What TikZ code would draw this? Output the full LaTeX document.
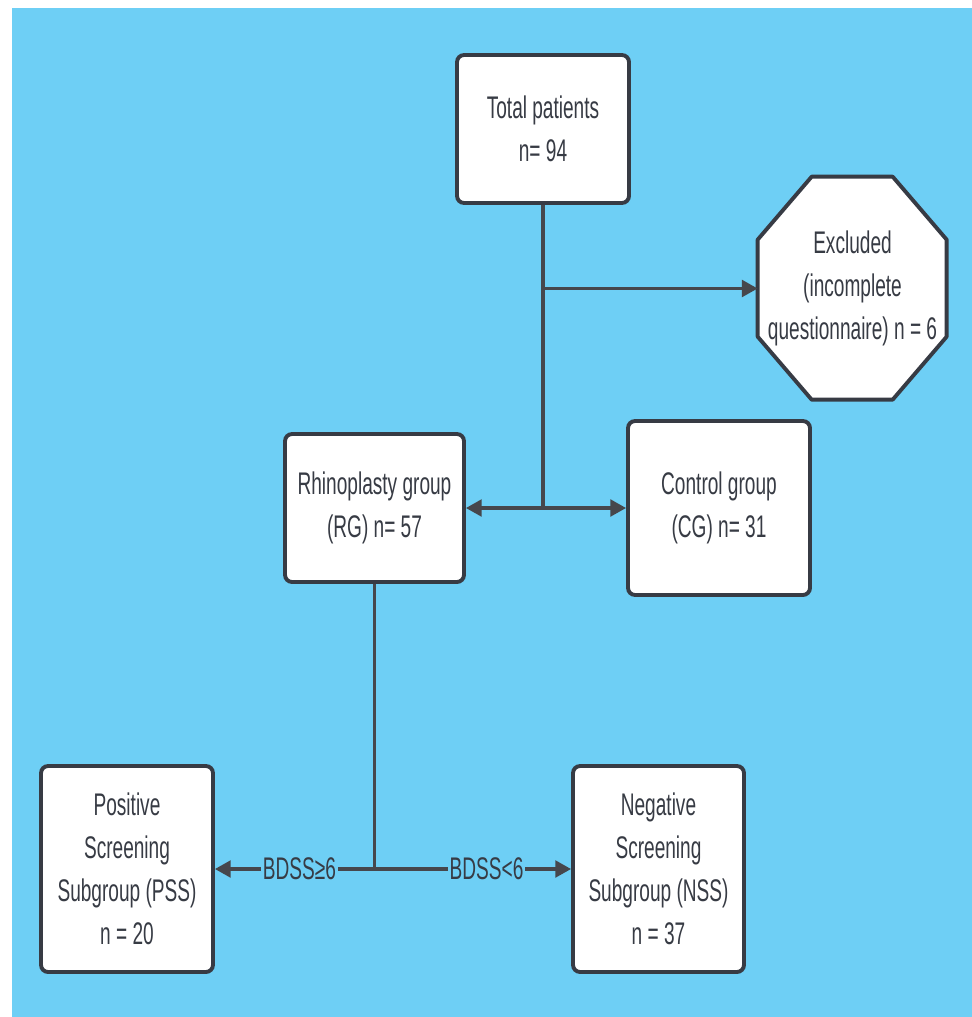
\documentclass[tikz,border=0pt]{standalone}
\usepackage{fontspec}
\setmainfont[FakeStretch=0.61]{Liberation Sans}
\usepackage{tikz}
\usetikzlibrary{positioning,backgrounds,arrows.meta}

\definecolor{bgblue}{RGB}{110,207,245}
\definecolor{inkgray}{RGB}{55,59,68}
\definecolor{linegray}{RGB}{70,71,76}

\begin{document}
\begin{tikzpicture}[x=0.02cm,y=-0.02cm,
    boxnode/.style={rectangle,rounded corners=4pt,draw=inkgray,line width=2.2pt,fill=white,
      text=inkgray,align=center,font=\fontsize{17.8}{24.5}\selectfont},
    octnode/.style={rectangle,text=inkgray,align=center,font=\fontsize{17.8}{24.5}\selectfont},
    link/.style={draw=linegray,line width=1.9pt},
    arrowlink/.style={link,-{Triangle[length=9pt,width=9.5pt]}},
    cutlabel/.style={fill=bgblue,text=inkgray,inner sep=1pt,font=\fontsize{17.8}{20}\selectfont}]
    \useasboundingbox (0,0) rectangle (972,1017);

    \node[boxnode,minimum width=3.44cm,minimum height=2.96cm] (total) at (543,129) {Total patients\\n= 94};
    \node[octnode,minimum width=3.78cm,minimum height=4.46cm] (excl) at (852.5,288.5)
      {Excluded\\(incomplete\\questionnaire) n = 6};
    \node[boxnode,minimum width=3.58cm,minimum height=2.96cm] (rg) at (374.5,508) {Rhinoplasty group\\(RG) n= 57};
    \node[boxnode,minimum width=3.64cm,minimum height=3.48cm] (cg) at (719,508) {Control group\\(CG) n= 31};
    \node[boxnode,minimum width=3.44cm,minimum height=4.12cm] (pss) at (127,869)
      {Positive\\Screening\\Subgroup (PSS)\\n = 20};
    \node[boxnode,minimum width=3.42cm,minimum height=4.12cm] (nss) at (658.5,869)
      {Negative\\Screening\\Subgroup (NSS)\\n = 37};

    \coordinate (exbranch) at (total.south |- excl.west);
    \coordinate (split) at (total.south |- rg.east);
    \coordinate (subsplit) at (rg.south |- pss.east);

    \draw[link] (total.south) -- (split);
    \draw[arrowlink] (exbranch) -- (excl.west);
    \draw[arrowlink] (split) -- (rg.east);
    \draw[arrowlink] (split) -- (cg.west);
    \draw[link] (rg.south) -- (subsplit);
    \draw[arrowlink] (subsplit) -- node[cutlabel,pos=0.47] {BDSS≥6} (pss.east);
    \draw[arrowlink] (subsplit) -- node[cutlabel,pos=0.57] {BDSS<6} (nss.west);

    \begin{pgfonlayer}{background}
        \fill[bgblue] (12,8) rectangle (972,1017);
        \filldraw[draw=inkgray,line width=2.2pt,fill=white,line join=round]
          (excl.north west) ++(54,0) -- ++(81,0) -- ++(54,63) -- ++(0,97)
          -- ++(-54,63) -- ++(-81,0) -- ++(-54,-63) -- ++(0,-97) -- cycle;
    \end{pgfonlayer}
\end{tikzpicture}
\end{document}
